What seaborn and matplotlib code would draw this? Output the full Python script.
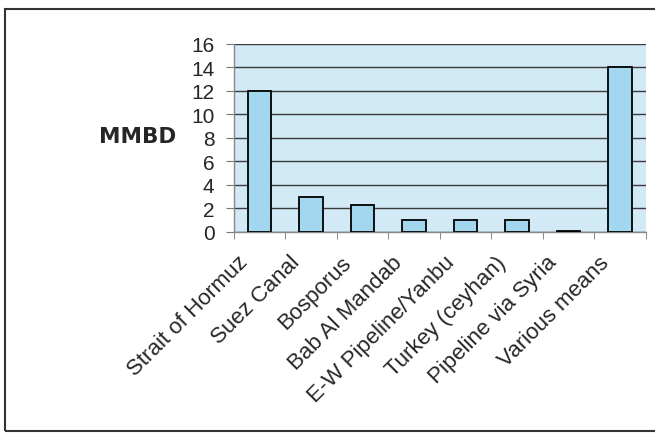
import matplotlib
matplotlib.use("Agg")
import matplotlib.pyplot as plt
import matplotlib.transforms as mtransforms
import seaborn as sns
import pandas as pd
from matplotlib.patches import Rectangle

# Oil transit chokepoints, million barrels per day
routes = ["Strait of Hormuz", "Suez Canal", "Bosporus", "Bab Al Mandab",
          "E-W Pipeline/Yanbu", "Turkey (ceyhan)", "Pipeline via Syria",
          "Various means"]
mmbd = [12, 3, 2.3, 1, 1, 1, 0.1, 14]
y_ticks = [0, 2, 4, 6, 8, 10, 12, 14, 16]

df = pd.DataFrame({"route": routes, "mmbd": mmbd})

sns.set_style("white")
plt.rcParams["font.family"] = ["Liberation Sans", "DejaVu Sans"]

fig = plt.figure(figsize=(6.55, 4.35), dpi=100)
ax = fig.add_axes([0.357, 0.4644, 0.629, 0.4322])
ax.set_facecolor("#d2eaf6")

sns.barplot(data=df, x="route", y="mmbd", ax=ax, color="#a3d6ef",
            saturation=1, width=0.45, edgecolor="black", linewidth=1.3,
            zorder=3)

ax.set_ylim(0, 16)
ax.set_xlim(-0.5, len(routes) - 0.5)
ax.set_yticks(y_ticks)
ax.set_yticklabels([str(t) for t in y_ticks], fontsize=15)
ax.grid(axis="y", color="#3a3a3a", linewidth=1.0, zorder=1)
ax.set_axisbelow(True)

# category separators on the x axis
ax.set_xticks([i + 0.5 for i in range(-1, len(routes))], minor=True)
ax.set_xticks(range(len(routes)))
ax.set_xticklabels(routes, rotation=45, ha="right", rotation_mode="anchor",
                   fontsize=16)
ax.tick_params(axis="x", which="major", length=0, pad=14)
ax.tick_params(axis="x", which="minor", length=5, color="#777777",
               direction="out", bottom=True)
ax.tick_params(axis="y", length=6, color="#777777", direction="out", left=True,
               pad=8)

shift = mtransforms.ScaledTranslation(-22 / 100, 0, fig.dpi_scale_trans)
for lbl in ax.get_xticklabels():
    lbl.set_transform(lbl.get_transform() + shift)

for side in ("top", "right"):
    ax.spines[side].set_visible(False)
for side in ("left", "bottom"):
    ax.spines[side].set_color("#888888")
    ax.spines[side].set_linewidth(1.0)

ax.set_xlabel("")
ax.set_ylabel("")
fig.text(0.210, 1 - 137 / 435, "MMBD", fontsize=15.5, fontweight="bold",
         family="DejaVu Sans", ha="center", va="center")

# frame around the chart
fig.patches.append(Rectangle((5 / 655, 3 / 435), 1.2, 422 / 435,
                             transform=fig.transFigure, fill=False,
                             edgecolor="#333333", linewidth=1.5))

fig.savefig("out.png", dpi=100)
